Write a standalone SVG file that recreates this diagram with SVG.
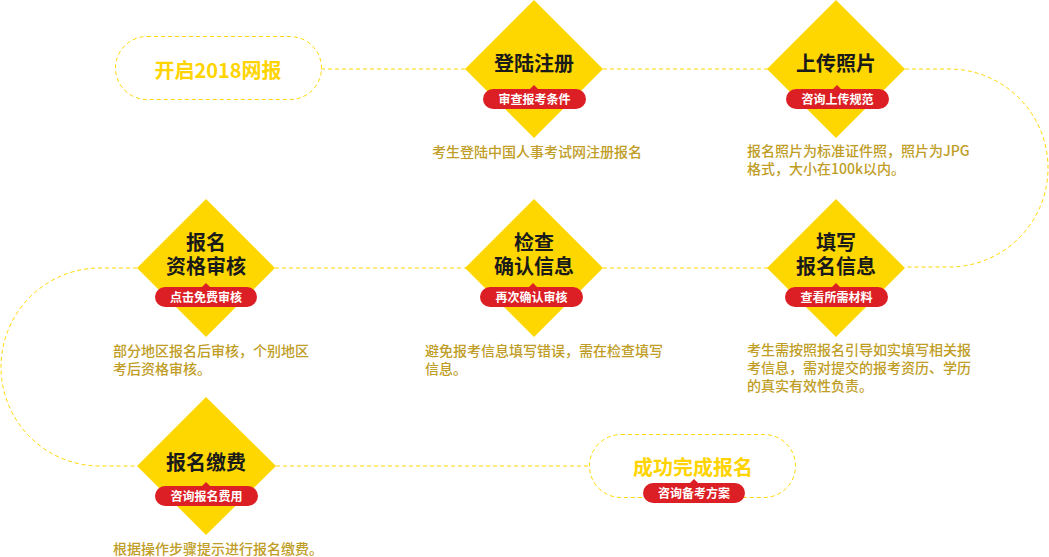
<svg xmlns="http://www.w3.org/2000/svg" width="1049" height="557" viewBox="0 0 1049 557">
<style>
  .dia{fill:#FFD700}
  .pill{fill:#fff;stroke:#FFD700;stroke-width:1;stroke-dasharray:4 3}
  .link{fill:none;stroke:#FFD700;stroke-width:1;stroke-dasharray:4 3}
  .badge{fill:#DC1F25}
  .t{font-family:"Noto Sans CJK SC","Noto Sans",sans-serif;font-weight:bold;font-size:20px;fill:#1a1a1a;text-anchor:middle}
  .pt{font-family:"Noto Sans CJK SC","Noto Sans",sans-serif;font-weight:bold;font-size:20px;fill:#FFD400;text-anchor:middle}
  .bt{font-family:"Noto Sans CJK SC","Noto Sans",sans-serif;font-weight:bold;font-size:12px;fill:#fff;text-anchor:middle}
  .d{font-family:"Noto Sans CJK SC","Noto Sans",sans-serif;font-weight:500;font-size:14px;fill:#C09D26}
</style>
<rect width="1049" height="557" fill="#fff"/>
<g id="connectors">
  <line class="link" x1="321" y1="69" x2="466" y2="69"/>
  <line class="link" x1="603" y1="69" x2="768" y2="69"/>
  <path class="link" d="M905,69 H949 A99,99 0 0 1 949,267 H905"/>
  <line class="link" x1="603" y1="268" x2="768" y2="268"/>
  <line class="link" x1="275" y1="268" x2="466" y2="268"/>
  <path class="link" d="M137,268 H100 A99,99 0 0 0 100,466 H137"/>
  <line class="link" x1="276" y1="466" x2="589" y2="466"/>
</g>
<g id="start">
  <rect class="pill" x="115.5" y="36.5" width="206" height="63" rx="31.5"/>
  <text class="pt" x="218" y="78">开启2018网报</text>
</g>
<g id="register">
  <polygon class="dia" points="534,0 603,69 534,138 465,69"/>
  <text class="t" x="534" y="71">登陆注册</text>
  <polygon class="badge" points="530,89 534,85 538,89"/>
  <rect class="badge" x="483" y="89" width="103" height="20" rx="10"/>
  <text class="bt" x="534.5" y="104">审查报考条件</text>
  <text class="d" x="432" y="157">考生登陆中国人事考试网注册报名</text>
</g>
<g id="photo">
  <polygon class="dia" points="836,0 905,69 836,138 767,69"/>
  <text class="t" x="836" y="71">上传照片</text>
  <polygon class="badge" points="833,89 837,85 841,89"/>
  <rect class="badge" x="786" y="89" width="103" height="20" rx="10"/>
  <text class="bt" x="837.5" y="104">咨询上传规范</text>
  <text class="d" x="747" y="156"><tspan x="747">报名照片为标准证件照，照片为JPG</tspan><tspan x="747" dy="18">格式，大小在100k以内。</tspan></text>
</g>
<g id="fill-info">
  <polygon class="dia" points="836,199 905,268 836,337 767,268"/>
  <text class="t" x="836" y="250"><tspan x="836">填写</tspan><tspan x="836" dy="24">报名信息</tspan></text>
  <polygon class="badge" points="832,287 836,283 840,287"/>
  <rect class="badge" x="785" y="287" width="103" height="20" rx="10"/>
  <text class="bt" x="836.5" y="302">查看所需材料</text>
  <text class="d" x="747" y="355"><tspan x="747">考生需按照报名引导如实填写相关报</tspan><tspan x="747" dy="18">考信息，需对提交的报考资历、学历</tspan><tspan x="747" dy="18">的真实有效性负责。</tspan></text>
</g>
<g id="check">
  <polygon class="dia" points="534,199 603,268 534,337 465,268"/>
  <text class="t" x="534" y="250"><tspan x="534">检查</tspan><tspan x="534" dy="24">确认信息</tspan></text>
  <polygon class="badge" points="529,287 533,283 537,287"/>
  <rect class="badge" x="480" y="287" width="103" height="20" rx="10"/>
  <text class="bt" x="531.5" y="302">再次确认审核</text>
  <text class="d" x="425" y="356"><tspan x="425">避免报考信息填写错误，需在检查填写</tspan><tspan x="425" dy="18">信息。</tspan></text>
</g>
<g id="qualify">
  <polygon class="dia" points="206,199 275,268 206,337 137,268"/>
  <text class="t" x="206" y="250"><tspan x="206">报名</tspan><tspan x="206" dy="24">资格审核</tspan></text>
  <polygon class="badge" points="202,287 206,283 210,287"/>
  <rect class="badge" x="155" y="287" width="102" height="20" rx="10"/>
  <text class="bt" x="206" y="302">点击免费审核</text>
  <text class="d" x="113" y="356"><tspan x="113">部分地区报名后审核，个别地区</tspan><tspan x="113" dy="18">考后资格审核。</tspan></text>
</g>
<g id="pay">
  <polygon class="dia" points="206,397 276,466 206,535 137,466"/>
  <text class="t" x="206" y="470">报名缴费</text>
  <polygon class="badge" points="202,486 206,482 210,486"/>
  <rect class="badge" x="155" y="486" width="103" height="20" rx="10"/>
  <text class="bt" x="206.5" y="501">咨询报名费用</text>
  <text class="d" x="113" y="554">根据操作步骤提示进行报名缴费。</text>
</g>
<g id="finish">
  <rect class="pill" x="589.5" y="434.5" width="206" height="63" rx="31.5"/>
  <text class="pt" x="693" y="475">成功完成报名</text>
  <polygon class="badge" points="690,483 694,479 698,483"/>
  <rect class="badge" x="643" y="483" width="102" height="20" rx="10"/>
  <text class="bt" x="694" y="498">咨询备考方案</text>
</g>
</svg>
